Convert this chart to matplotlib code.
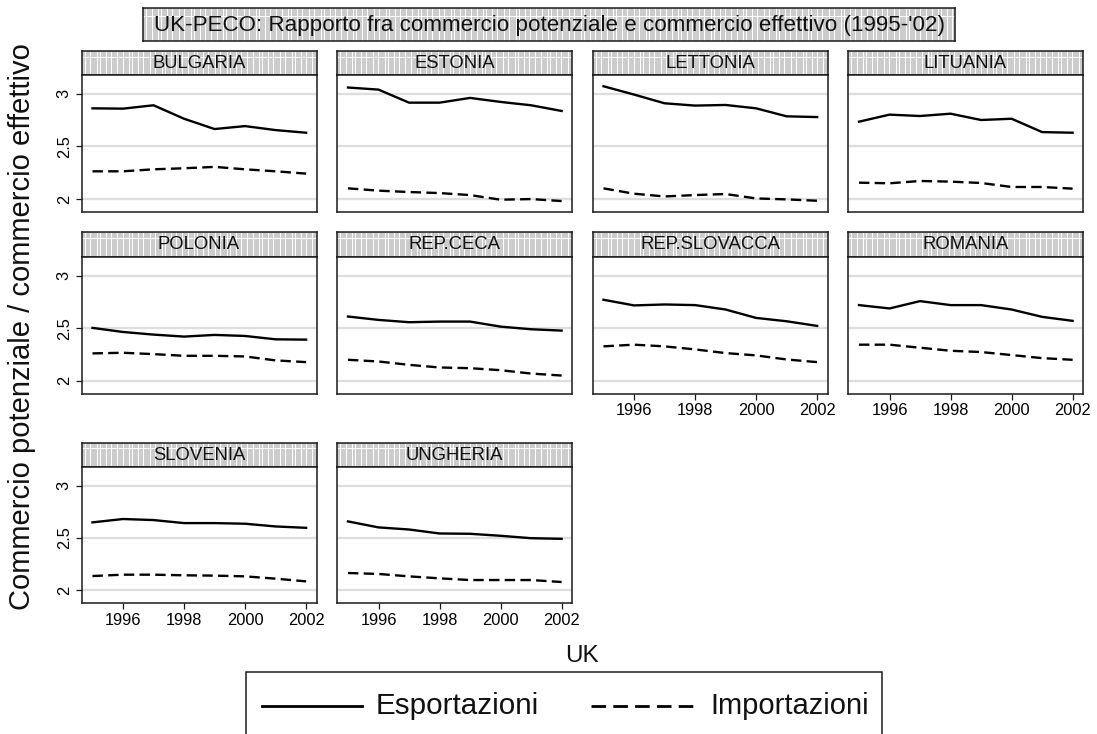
import matplotlib
matplotlib.use("Agg")
import matplotlib.pyplot as plt
from matplotlib.patches import Rectangle
from matplotlib.lines import Line2D

plt.rcParams['font.family'] = ['Liberation Sans', 'DejaVu Sans']
plt.rcParams['lines.scale_dashes'] = False

# ---------------- data ----------------
years = [1995, 1996, 1997, 1998, 1999, 2000, 2001, 2002]
countries = ["BULGARIA", "ESTONIA", "LETTONIA", "LITUANIA", "POLONIA",
             "REP.CECA", "REP.SLOVACCA", "ROMANIA", "SLOVENIA", "UNGHERIA"]

bulgaria_exp = [2.863, 2.860, 2.892, 2.764, 2.666, 2.694, 2.656, 2.631]
bulgaria_imp = [2.264, 2.264, 2.283, 2.293, 2.306, 2.283, 2.264, 2.242]
estonia_exp = [3.061, 3.041, 2.917, 2.917, 2.962, 2.924, 2.892, 2.838]
estonia_imp = [2.102, 2.080, 2.067, 2.057, 2.038, 1.994, 2.000, 1.981]
lettonia_exp = [3.073, 2.994, 2.911, 2.889, 2.895, 2.863, 2.787, 2.780]
lettonia_imp = [2.102, 2.051, 2.025, 2.038, 2.048, 2.006, 1.997, 1.984]
lituania_exp = [2.736, 2.803, 2.790, 2.812, 2.752, 2.764, 2.637, 2.631]
lituania_imp = [2.156, 2.150, 2.172, 2.166, 2.153, 2.115, 2.115, 2.099]
polonia_exp = [2.502, 2.463, 2.438, 2.419, 2.435, 2.425, 2.393, 2.390]
polonia_imp = [2.259, 2.265, 2.252, 2.236, 2.236, 2.230, 2.192, 2.176]
repceca_exp = [2.610, 2.578, 2.556, 2.562, 2.562, 2.514, 2.489, 2.476]
repceca_imp = [2.198, 2.182, 2.150, 2.125, 2.118, 2.099, 2.067, 2.048]
repslovacca_exp = [2.770, 2.716, 2.725, 2.719, 2.677, 2.597, 2.565, 2.521]
repslovacca_imp = [2.326, 2.342, 2.326, 2.297, 2.262, 2.240, 2.201, 2.176]
romania_exp = [2.719, 2.687, 2.757, 2.719, 2.719, 2.677, 2.607, 2.569]
romania_imp = [2.342, 2.342, 2.313, 2.284, 2.272, 2.243, 2.214, 2.198]
slovenia_exp = [2.649, 2.681, 2.671, 2.642, 2.642, 2.636, 2.610, 2.597]
slovenia_imp = [2.137, 2.150, 2.150, 2.144, 2.141, 2.134, 2.112, 2.086]
ungheria_exp = [2.658, 2.601, 2.581, 2.543, 2.540, 2.521, 2.498, 2.492]
ungheria_imp = [2.166, 2.157, 2.134, 2.115, 2.099, 2.099, 2.099, 2.080]

exports = [bulgaria_exp, estonia_exp, lettonia_exp, lituania_exp, polonia_exp,
           repceca_exp, repslovacca_exp, romania_exp, slovenia_exp, ungheria_exp]
imports = [bulgaria_imp, estonia_imp, lettonia_imp, lituania_imp, polonia_imp,
           repceca_imp, repslovacca_imp, romania_imp, slovenia_imp, ungheria_imp]

yticks = [2, 2.5, 3]
ytick_labels = ["2", "2.5", "3"]
xticks = [1996, 1998, 2000, 2002]

title = "UK-PECO: Rapporto fra commercio potenziale e commercio effettivo (1995-'02)"
ylabel = "Commercio potenziale / commercio effettivo"
xlabel = "UK"
legend_labels = ["Esportazioni", "Importazioni"]

# ---------------- layout ----------------
W, H = 1097, 734
fig = plt.figure(figsize=(W / 100, H / 100), dpi=100)
fig.patch.set_facecolor("white")


def fx(px):
    return px / W


def fy(py):
    return 1 - py / H


SPINE = "#1a1a1a"
HEADER_BG = "#cccccc"


def pattern_box(left, top, right, bottom):
    """Grey box with white vertical stripes (Stata-like header)."""
    w = right - left
    h = bottom - top
    ax = fig.add_axes([fx(left), fy(bottom), w / W, h / H])
    ax.set_xlim(0, w)
    ax.set_ylim(0, h)
    ax.set_facecolor(HEADER_BG)
    steps = [5.5, 6.5, 3.0, 6.0, 5.0, 6.5]
    xs = []
    x = 3.0
    k = 0
    while x < w:
        xs.append(x)
        x += steps[k % len(steps)]
        k += 1
    ax.vlines(xs, 0, h, colors="white", linewidth=0.75)
    ax.axhline(h * 0.76, color="white", linewidth=0.7)
    ax.set_xticks([])
    ax.set_yticks([])
    for s in ax.spines.values():
        s.set_color(SPINE)
        s.set_linewidth(1.1)
    return ax


col_left = [81.5, 337.0, 592.5, 848.0]
col_w = 235.0
rows = [(50.7, 75.0, 212.0), (231.7, 256.7, 393.5), (442.7, 466.7, 603.3)]

bottom_panels = {6: True, 7: True, 8: True, 9: True}

for i, name in enumerate(countries):
    r, c = divmod(i, 4)
    htop, ptop, pbot = rows[r]
    left = col_left[c]
    # header
    hax = pattern_box(left, htop, left + col_w, ptop)
    hax.text(col_w / 2, (ptop - htop) / 2 - 0.5, name, ha="center", va="center",
             fontsize=13.3, color="#111111")
    # plot
    ax = fig.add_axes([fx(left), fy(pbot), col_w / W, (pbot - ptop) / H])
    ax.plot(years, exports[i], color="black", linewidth=1.7, solid_joinstyle="round")
    ax.plot(years, imports[i], color="black", linewidth=1.7, dashes=(7.5, 3.8))
    ax.set_xlim(1994.64, 2002.34)
    ax.set_ylim(1.877, 3.18)
    ax.set_yticks(yticks)
    ax.grid(axis="y", color="#dedede", linewidth=1.7)
    ax.set_axisbelow(True)
    for s in ax.spines.values():
        s.set_color(SPINE)
        s.set_linewidth(1.1)
    ax.tick_params(direction="out", length=4, width=0.9, color=SPINE,
                   labelsize=11.8, pad=3)
    if c == 0:
        ax.set_yticklabels(ytick_labels, rotation=90, va="center")
    else:
        ax.tick_params(axis="y", length=0, labelleft=False)
    if bottom_panels.get(i, False):
        ax.set_xticks(xticks)
        ax.set_xticklabels([str(x) for x in xticks])
    else:
        ax.set_xticks([])

# title box
tax = pattern_box(143.3, 8.3, 955.0, 40.7)
tax.text((955.0 - 143.3) / 2, (40.7 - 8.3) / 2 - 0.5, title, ha="center",
         va="center", fontsize=16.1, color="#111111")

# axis labels
fig.text(fx(22), fy(327), ylabel, rotation=90, ha="center", va="center",
         fontsize=21, color="#111111")
fig.text(fx(582), fy(656), xlabel, ha="center", va="center", fontsize=17.5,
         color="#111111")

# legend box
fig.patches.append(Rectangle((fx(246), fy(745)), (882 - 246) / W, (745 - 672) / H,
                             transform=fig.transFigure, fill=False,
                             edgecolor=SPINE, linewidth=1.1))
ly = fy(706)
fig.lines.append(Line2D([fx(262), fx(362)], [ly, ly], transform=fig.transFigure,
                        color="black", linewidth=2.0))
fig.text(fx(376), ly, legend_labels[0], ha="left", va="center", fontsize=21.3,
         color="#111111")
fig.lines.append(Line2D([fx(591), fx(697)], [ly, ly], transform=fig.transFigure,
                        color="black", linewidth=2.0, dashes=(10.5, 5.2)))
fig.text(fx(710), ly, legend_labels[1], ha="left", va="center", fontsize=21.0,
         color="#111111")

fig.savefig("out.png", dpi=100, facecolor="white")
